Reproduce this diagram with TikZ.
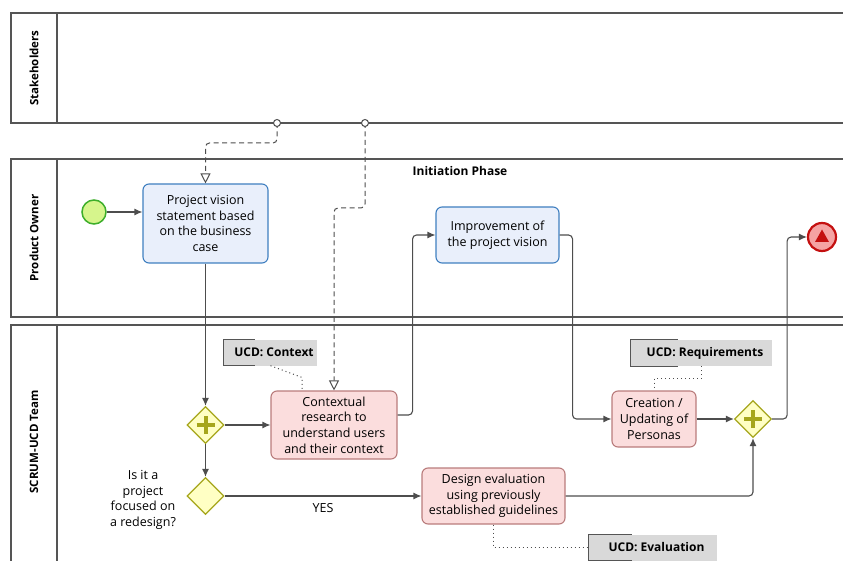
\documentclass[tikz,border=0pt]{standalone}
\usepackage{fontspec}
\setmainfont{Open Sans}
\usetikzlibrary{arrows.meta,shapes.geometric,calc}

\definecolor{linegray}{HTML}{4D4D4D}
\definecolor{poolgray}{HTML}{555555}
\definecolor{bluefill}{HTML}{E9EFFB}
\definecolor{blueline}{HTML}{3F7FC0}
\definecolor{pinkfill}{HTML}{FBDDDD}
\definecolor{pinkline}{HTML}{B97C7C}
\definecolor{gwfill}{HTML}{FFFFC4}
\definecolor{gwline}{HTML}{A6A61C}
\definecolor{startfill}{HTML}{D6F58C}
\definecolor{startline}{HTML}{3DAE2B}
\definecolor{endfill}{HTML}{F5A3A3}
\definecolor{endline}{HTML}{C41010}
\definecolor{notefill}{HTML}{D9D9D9}

\tikzset{
  pool/.style={draw=poolgray, line width=1.1pt},
  poollabel/.style={rotate=90, font=\fontsize{11.5}{13}\selectfont\bfseries},
  txt/.style={font=\fontsize{12.5}{15.7}\selectfont, align=center},
  task/.style={txt, rectangle, rounded corners=6pt, line width=1.1pt, inner sep=2pt},
  bluetask/.style={task, draw=blueline, fill=bluefill},
  pinktask/.style={task, draw=pinkline, fill=pinkfill},
  gateway/.style={diamond, draw=gwline, fill=gwfill, line width=1.3pt,
    minimum width=37pt, minimum height=37pt, inner sep=0pt},
  pargw/.style={gateway, path picture={
    \draw[gwline, line width=4pt]
      ($(path picture bounding box.center)+(-9,0)$) -- ++(18,0)
      ($(path picture bounding box.center)+(0,-9)$) -- ++(0,18);}},
  startev/.style={circle, draw=startline, fill=startfill, line width=1.5pt,
    minimum size=24pt, inner sep=0pt},
  endev/.style={circle, draw=endline, fill=endfill, line width=2.2pt,
    minimum size=28pt, inner sep=0pt},
  note/.style={fill=notefill, font=\fontsize{12}{14}\selectfont\bfseries,
    minimum height=26pt, inner sep=0pt},
  bracket/.style={draw=poolgray, line width=1.1pt},
  flow/.style={draw=linegray, line width=1.1pt, rounded corners=4pt,
    -{Latex[length=8pt,width=7pt]}},
  msg/.style={draw=linegray, line width=1pt, dash pattern=on 5pt off 3.5pt,
    rounded corners=4pt, -{Triangle[open,length=10pt,width=10pt,fill=white]}},
  msgstart/.style={draw=linegray, fill=white, line width=1pt},
  assoc/.style={draw=linegray, line width=1pt, dash pattern=on 1pt off 3pt},
}

\begin{document}
\begin{tikzpicture}[x=1pt, y=-1pt]
\useasboundingbox (0,0) rectangle (843,561);
\clip (0,0) rectangle (843,561);

% pools
\draw[pool] (11,13) rectangle (860,123);
\draw[pool] (57,13) -- (57,123);
\node[poollabel] (lstake) at (34,68) {Stakeholders};

\draw[pool] (11,159) rectangle (860,317);
\draw[pool] (57,159) -- (57,317);
\node[poollabel] (lpo) at (34,238) {Product Owner};

\draw[pool] (11,325) rectangle (860,570);
\draw[pool] (57,325) -- (57,570);
\node[poollabel] (lteam) at (34,442) {SCRUM-UCD Team};

\node[font=\fontsize{12}{14}\selectfont\bfseries] (phase) at (460,171) {Initiation Phase};

% events
\node[startev] (start) at (94,212) {};
\node[endev] (end) at (822,237) {};
\fill[endline] ($(end)+(-7,5)$) -- ($(end)+(7,5)$) -- ($(end)+(0,-7.5)$) -- cycle;

% tasks
\node[bluetask, minimum width=125pt, minimum height=79pt] (t1) at (205.5,223.5)
  {Project vision\\statement based\\on the business\\case};
\node[bluetask, minimum width=123pt, minimum height=56pt] (t2) at (497.5,235)
  {Improvement of\\the project vision};
\node[pinktask, minimum width=126pt, minimum height=68pt] (t3) at (334,425)
  {Contextual\\research to\\understand users\\and their context};
\node[pinktask, minimum width=84pt, minimum height=56pt] (t4) at (654,419)
  {Creation /\\Updating of\\Personas};
\node[pinktask, minimum width=143pt, minimum height=56pt] (t5) at (493.5,496)
  {Design evaluation\\using previously\\established guidelines};

% gateways
\node[pargw] (g1) at (205.5,425) {};
\node[pargw] (g2) at (753,419) {};
\node[gateway] (gx) at (205.5,496) {};
\node[txt] (q) at (143,500) {Is it a\\project\\focused on\\a redesign?};

% annotations
\node[note, minimum width=93pt] (a1) at (270.5,352.5) {\hspace{7pt}UCD: Context};
\draw[bracket] ([xshift=31pt]a1.north west) -| (a1.south west) -- ++(31,0);
\node[note, minimum width=141pt] (a2) at (701.5,353) {\hspace{7pt}UCD: Requirements};
\draw[bracket] ([xshift=47pt]a2.north west) -| (a2.south west) -- ++(47,0);
\node[note, minimum width=128pt] (a3) at (653,547.5) {\hspace{7pt}UCD: Evaluation};
\draw[bracket] ([xshift=43pt]a3.north west) -| (a3.south west) -- ++(43,0);

% associations
\draw[assoc] (a1.south) -- ($(t3.north)+(-32,-13)$) -- ($(t3.north)+(-32,0)$);
\draw[assoc] (a2.south) -- ++(0,12) -| (t4.north);
\draw[assoc] (t5.south) |- (a3.west);

% message flows
\coordinate (m1) at (277,123);
\coordinate (m2) at (365,123);
\draw[msg] (m1) -- ++(0,20) -| (t1.north);
\draw[msg] (m2) -- ++(0,85) -| (t3.north);
\draw[msgstart] (m1) circle (3.5pt);
\draw[msgstart] (m2) circle (3.5pt);

% sequence flows
\draw[flow] (start) -- (start -| t1.west);
\draw[flow] (t1.south) -- (g1.north);
\draw[flow] (g1.east) -- (t3.west);
\draw[flow] (g1.south) -- (gx.north);
\draw[flow] (gx.east) -- node[txt, below=4pt] (yes) {YES} (t5.west);
\draw[flow] ($(t3.east)+(0,-10)$) -- ++(15,0) |- (t2.west);
\draw[flow] (t2.east) -- ++(13,0) |- (t4.west);
\draw[flow] (t4.east) -- (g2.west);
\draw[flow] (t5.east) -| (g2.south);
\draw[flow] (g2.east) -- ++(15,0) |- (end.west);
\end{tikzpicture}
\end{document}
